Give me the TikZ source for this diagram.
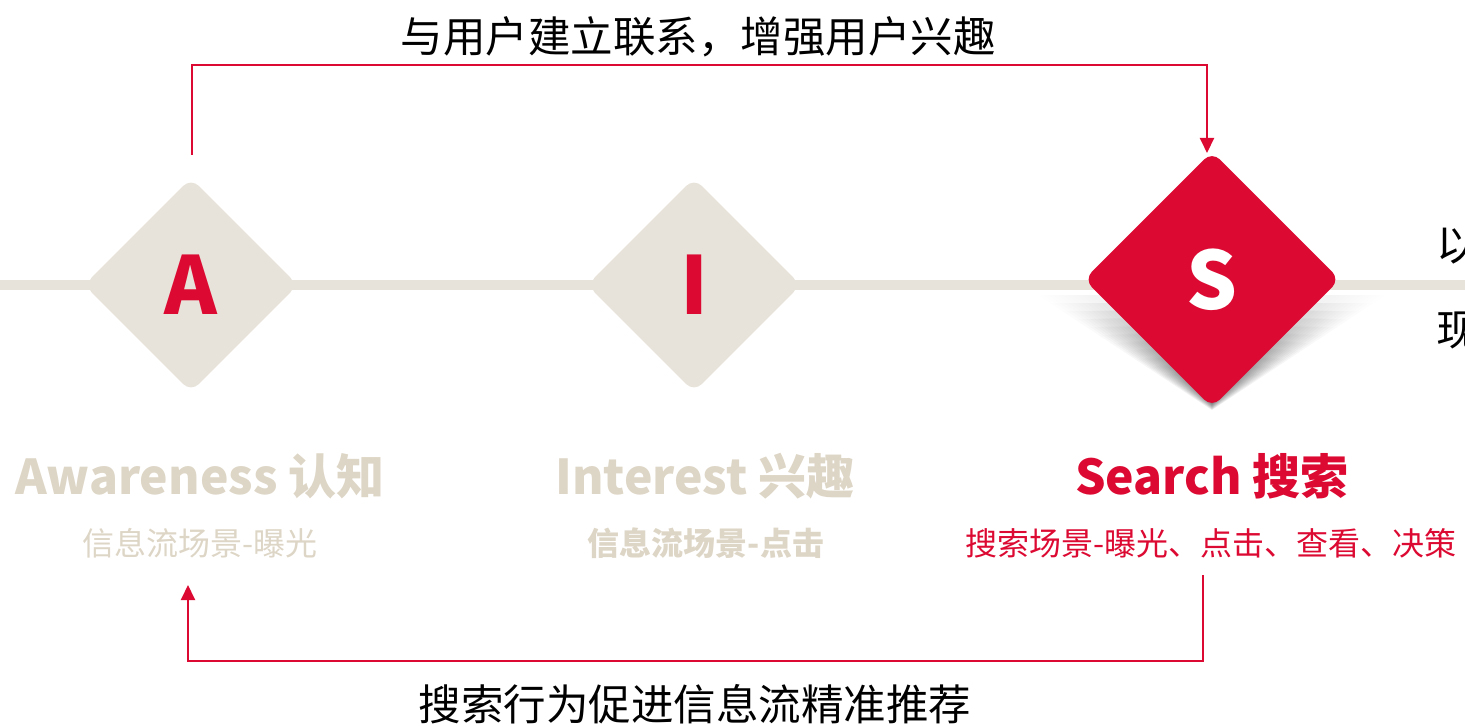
\documentclass[tikz,border=0pt]{standalone}
\usepackage{fontspec}
\setmainfont{Noto Sans CJK SC}
\usetikzlibrary{shapes.geometric,arrows.meta,fadings}
\definecolor{brandred}{RGB}{220,10,50}
\definecolor{beige}{RGB}{232,227,218}
\definecolor{labelbeige}{RGB}{221,213,197}
\tikzset{
  gem/.style={diamond,inner sep=0pt,rounded corners=11pt,font=\fontsize{80}{80}\selectfont\bfseries},
  title/.style={font=\fontsize{48}{48}\selectfont\bfseries,inner sep=0pt},
  sub/.style={font=\fontsize{32}{32}\selectfont,inner sep=0pt},
  caption/.style={font=\fontsize{42.5}{42.5}\selectfont,inner sep=0pt,text=black},
  conn/.style={draw=brandred,line width=2pt,-{Triangle[width=14pt,length=15pt]}}
}
\begin{document}
\begin{tikzpicture}[x=1pt,y=-1pt]
\useasboundingbox (0,0) rectangle (1465,727);
\clip (0,0) rectangle (1465,727);
% shadow under S
\foreach \i in {0,...,11}{
  \fill[black,opacity=0.06,path fading=north] (1212-180+\i*5,291) -- (1212+180-\i*5,291) -- (1212,410-\i*0.6) -- cycle;
}
% timeline
\draw[beige,line width=10pt] (0,285) -- (1465,285);
% diamonds
\node[gem,fill=beige,text=brandred,minimum size=214pt] (A) at (191,285) {A};
\node[gem,fill=beige,text=brandred,minimum size=214pt] (I) at (694,285) {I};
\node[gem,fill=brandred,text=white,minimum size=256pt] (S) at (1212,279.5) {S};
% titles
\node[title,text=labelbeige] (tA) at (200,476) {Awareness 认知};
\node[title,text=labelbeige] (tI) at (705,476) {Interest 兴趣};
\node[title,text=brandred] (tS) at (1212,476) {Search 搜索};
% subtitles
\node[sub,text=labelbeige] (sA) at (200,543) {信息流场景-曝光};
\node[sub,text=labelbeige,font=\fontsize{32}{32}\selectfont\bfseries] (sI) at (706,543) {信息流场景-点击};
\node[sub,text=brandred] (sS) at (1211,543) {搜索场景-曝光、点击、查看、决策};
% captions
\node[caption] (top) at (698,37) {与用户建立联系，增强用户兴趣};
\node[caption] (bottom) at (695,704) {搜索行为促进信息流精准推荐};
\node[caption,anchor=west] (r1) at (1436,245) {以};
\node[caption,anchor=west] (r2) at (1436,330) {现};
% connectors
\coordinate (topL) at (192,155);
\coordinate (topR) at (1207,153);
\draw[conn] (topL) -- (192,65) -| (topR);
\coordinate (botR) at (1203,575);
\coordinate (botL) at (188,585);
\draw[conn] (botR) -- (1203,661) -| (botL);
\end{tikzpicture}
\end{document}
